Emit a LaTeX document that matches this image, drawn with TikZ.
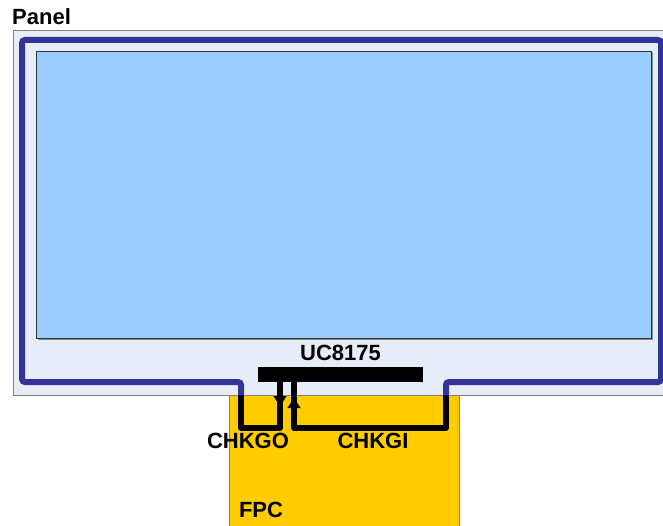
\documentclass[tikz,border=0pt]{standalone}
\usepackage{fontspec}
\setmainfont{Liberation Sans}
\usepackage{tikz}
\usetikzlibrary{positioning}
\usetikzlibrary{calc}
\usetikzlibrary{arrows.meta}
\definecolor{panelfill}{RGB}{230,236,248}
\definecolor{panelline}{RGB}{128,128,128}
\definecolor{ringblue}{RGB}{51,51,153}
\definecolor{lcdblue}{RGB}{153,204,255}
\definecolor{fpcyellow}{RGB}{255,204,0}

\begin{document}
\begin{tikzpicture}[
  x=1pt, y=-1pt,
  lbl/.style={
      font=\fontsize{22}{22}\selectfont\bfseries,
      inner sep=0pt
  },
  ring/.style={
      draw=ringblue,
      line width=6pt,
      rounded corners=3pt
  },
  wire/.style={
      draw=black,
      line width=5.5pt,
      line join=round
  },
  tip/.style={
      -{Triangle[length=10pt,width=13pt]},
      draw=black,
      line width=1pt
  }
]

\useasboundingbox (0,0) rectangle (663,526);
\clip (0,0) rectangle (663,526);
\fill[white] (0,0) rectangle (663,526);

% panel and display
\node[draw=panelline, line width=1.2pt, fill=panelfill, inner sep=0pt,
      minimum width=670pt, minimum height=365pt, anchor=north west]
      (panel) at (13,30) {};
\node[lbl, anchor=west] (panellbl) at (12,17) {Panel};

\fill[black!45] (37.5,52.5) rectangle (652.5,339.5);
\node[draw=black!80, line width=1pt, fill=lcdblue, inner sep=0pt,
      minimum width=615pt, minimum height=287pt, anchor=north west]
      (display) at (36,51) {};

% FPC
\node[draw=panelline, line width=0.8pt, fill=fpcyellow, inner sep=0pt,
      minimum width=230pt, minimum height=140pt, anchor=north west]
      (fpc) at (229,395) {};
\node[lbl] (fpclbl) at (261,510) {FPC};

% ring around the panel
\coordinate (ringL) at (241,395);
\coordinate (ringR) at (446,395);
\draw[ring] (ringL) -- (241,382) -- (22,382) -- (22,40) -- (661,40)
  -- (661,382) -- (446,382) -- (ringR);

% driver IC
\node[fill=black, inner sep=0pt, minimum width=165pt, minimum height=15pt]
      (chip) at (340.5,374.5) {};
\node[lbl] (chiplbl) at (340.5,353) {UC8175};

\coordinate (goTop) at (280,381);
\coordinate (giTop) at (294,381);

\draw[wire] (goTop) -- (280,428) -- (241,428) -- (ringL);
\draw[wire] (ringR) -- (446,428) -- (294,428) -- (giTop);
\draw[tip] (goTop) -- (280,406);
\draw[tip] (294,420) -- (294,398);

\node[lbl] (golbl) at (248,441) {CHKGO};
\node[lbl] (gilbl) at (373,441) {CHKGI};

\end{tikzpicture}
\end{document}
